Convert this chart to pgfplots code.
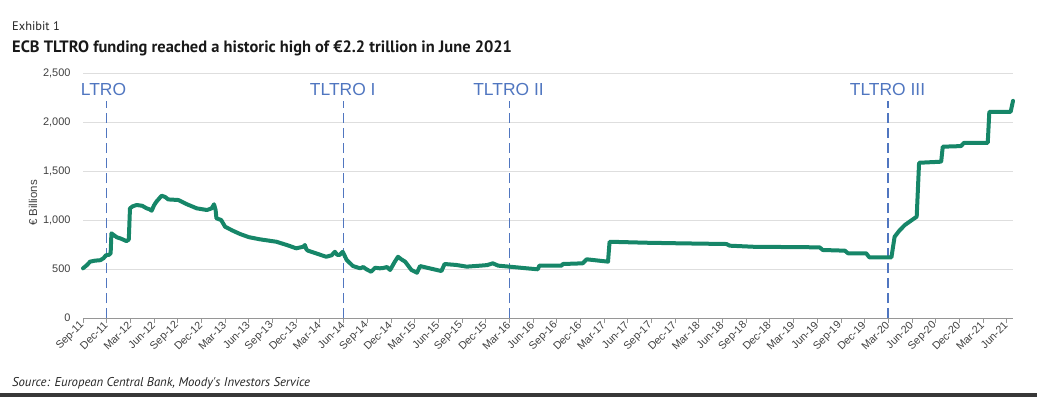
\documentclass[border=0pt]{standalone}
\usepackage{pgfplots}
\pgfplotsset{compat=1.18}
\usepackage{fontspec}
\setmainfont{Liberation Sans}
\newfontfamily\hfont{PT Sans}
\definecolor{tgreen}{RGB}{22,134,104}
\definecolor{tblue}{RGB}{80,118,192}
\definecolor{tgray}{RGB}{64,64,64}
\definecolor{gridc}{RGB}{222,222,222}
\definecolor{axc}{RGB}{150,150,150}
\begin{document}
\begin{tikzpicture}[x=1bp,y=1bp]
\path (0,0) rectangle (1037,397);
\fill[black!78] (0,0) rectangle (1037,4);
\node[anchor=base west, inner sep=0pt, text=black!85, font=\hfont\fontsize{12.5}{14}\selectfont] at (12,397-30) {Exhibit 1};
\node[anchor=base west, inner sep=0pt, text=black!90, font=\hfont\bfseries\fontsize{16.5}{19}\selectfont] at (12,397-52) {ECB TLTRO funding reached a historic high of €2.2 trillion in June 2021};
\node[anchor=base west, inner sep=0pt, text=black!85, font=\hfont\itshape\fontsize{12.8}{14}\selectfont] at (12,397-386) {Source: European Central Bank, Moody's Investors Service};
\node[rotate=90, inner sep=0pt, text=tgray, font=\fontsize{11.5}{13}\selectfont] at (33,397-203) {€ Billions};
\begin{axis}[
  at={(83bp,79bp)}, anchor=south west,
  scale only axis, width=930bp, height=245bp,
  xmin=0, xmax=117.8, ymin=0, ymax=2500,
  clip=false,
  axis x line*=bottom, axis y line*=left,
  y axis line style={draw=none},
  x axis line style={draw=axc, line width=0.8bp},
  xtick={0,3,...,117},
  xticklabels={Sep-11,Dec-11,Mar-12,Jun-12,Sep-12,Dec-12,Mar-13,Jun-13,Sep-13,Dec-13,Mar-14,Jun-14,Sep-14,Dec-14,Mar-15,Jun-15,Sep-15,Dec-15,Mar-16,Jun-16,Sep-16,Dec-16,Mar-17,Jun-17,Sep-17,Dec-17,Mar-18,Jun-18,Sep-18,Dec-18,Mar-19,Jun-19,Sep-19,Dec-19,Mar-20,Jun-20,Sep-20,Dec-20,Mar-21,Jun-21},
  xtick style={draw=axc, line width=0.8bp},
  tick align=outside, major tick length=5bp,
  xticklabel style={rotate=45, anchor=east, inner sep=1bp, text=tgray, font=\fontsize{10.8}{12}\selectfont},
  ytick={0,500,...,2500},
  ytick style={draw=none},
  yticklabel style={text=tgray, font=\fontsize{11}{13}\selectfont, xshift=-4bp},
  /pgf/number format/assume math mode=true,
  /pgf/number format/1000 sep={,},
  ymajorgrids, grid style={draw=gridc, line width=0.8bp},
]
\addplot[draw=tblue, line width=1.6bp, dash pattern=on 10bp off 5bp, forget plot] coordinates {(3,0) (3,2210)};
\addplot[draw=tblue, line width=1.6bp, dash pattern=on 10bp off 5bp, forget plot] coordinates {(33,0) (33,2210)};
\addplot[draw=tblue, line width=1.6bp, dash pattern=on 10bp off 5bp, forget plot] coordinates {(54,0) (54,2210)};
\addplot[draw=tblue, line width=1.6bp, dash pattern=on 10bp off 5bp, forget plot] coordinates {(102,0) (102,2210)};
\node[anchor=base, text=tblue, font=\fontsize{17.5}{20}\selectfont] at (axis cs:2.6,2270) {LTRO};
\node[anchor=base, text=tblue, font=\fontsize{17.5}{20}\selectfont] at (axis cs:32.9,2270) {TLTRO I};
\node[anchor=base, text=tblue, font=\fontsize{17.5}{20}\selectfont] at (axis cs:53.9,2270) {TLTRO II};
\node[anchor=base, text=tblue, font=\fontsize{17.5}{20}\selectfont] at (axis cs:101.9,2270) {TLTRO III};
\addplot[draw=tgreen, line width=4bp, line join=round, line cap=round] coordinates {
(0,507) (0.5,540) (0.9,575) (1.5,585) (2.2,590) (2.6,610) (2.9,640) (3.3,645) (3.5,660)
(3.6,864) (4.0,840) (4.3,823) (4.8,810) (5.5,785) (5.8,800)
(5.95,1119) (6.3,1140) (6.8,1153) (7.5,1145) (8.06,1119) (8.4,1110) (8.7,1095) (9.0,1150) (9.3,1187)
(9.96,1248) (10.4,1235) (10.8,1210) (12.07,1204) (13.1,1163) (14.4,1119) (15.7,1102) (16.3,1119)
(16.6,1160) (16.8,1100) (16.9,1017) (17.5,1000) (18.0,931) (19.0,890) (19.9,857) (21,825) (22.4,803)
(24.5,778) (26,740) (27.0,711) (27.9,727) (28.1,745) (28.3,700) (28.5,687) (29.5,660) (30.8,625)
(31.5,640) (31.9,676) (32.2,645) (32.5,643) (32.9,676) (33.4,592) (34.2,530) (35.1,507) (35.5,520)
(35.9,497) (36.5,472) (37.0,513) (37.6,507) (38.0,510) (38.5,520) (38.9,490) (39.5,575) (39.9,625)
(40.3,600) (40.8,575) (41.6,490) (42.3,462) (42.7,530) (43.9,507) (45.4,479) (45.8,551) (47.3,541)
(48.6,524) (50.3,534) (51.2,540) (51.9,558) (52.6,534) (54.0,524) (56.2,507) (57.6,497) (57.8,534)
(60.6,534) (60.8,551) (63.3,558) (63.8,599) (66.5,575) (66.7,778) (71.4,768) (75.6,762) (81.5,755)
(81.9,738) (84.9,727) (93.3,721) (93.7,694) (96.5,687) (96.9,660) (99.2,660) (99.6,619) (102.4,619)
(102.8,829) (103.4,891) (104.1,949) (104.7,983) (105.6,1034) (105.9,1584) (108.7,1595) (108.9,1748)
(111.2,1754) (111.6,1788) (114.6,1788) (114.8,2104) (117.5,2104) (117.8,2216)
};
\end{axis}
\end{tikzpicture}
\end{document}
